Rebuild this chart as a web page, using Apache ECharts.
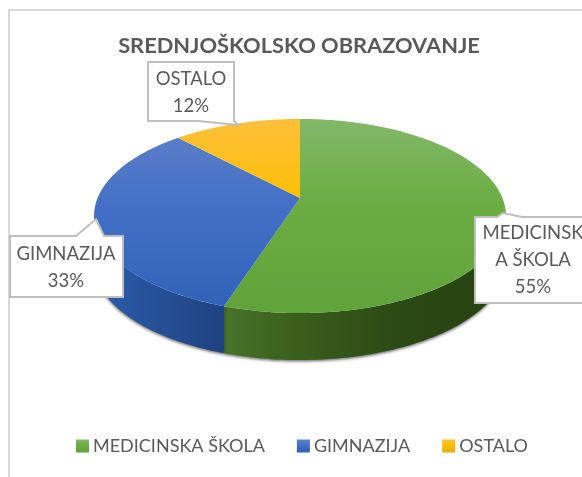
<!DOCTYPE html>
<html>
<head>
<meta charset="utf-8">
<style>
  html, body { margin: 0; padding: 0; background: #fff; }
  #chart { width: 582px; height: 477px; }
</style>
<script src="https://cdn.jsdelivr.net/npm/echarts@6/dist/echarts.min.js"></script>
</head>
<body>
<div id="chart"></div>
<script>
const titleText = 'SREDNJOŠKOLSKO OBRAZOVANJE';
const categories = ['MEDICINSKA ŠKOLA', 'GIMNAZIJA', 'OSTALO'];
const values = [55, 33, 12];
const labelLines = [['MEDICINSK', 'A ŠKOLA'], ['GIMNAZIJA'], ['OSTALO']];

const topStops = [
  [[0, '#82b868'], [0.45, '#6bad42'], [1, '#60a33a']],
  [[0, '#6080c8'], [0.45, '#4370c6'], [1, '#2f62b8']],
  [[0, '#fdbf3a'], [0.45, '#fcc000'], [1, '#e6aa05']],
];
const sideStops = [
  [[0, '#47732a'], [0.25, '#3a5f1c'], [0.6, '#2b4a15'], [1, '#27420f']],
  [[0, '#2c5dab'], [1, '#1f4280']],
  [[0, '#b08000'], [1, '#b08000']],
];

// pie plate, seen in perspective: the centre sits above the middle of the ellipse
const cx = 300, cy = 198, rx = 202.4, ry = 93.7, persp = 0.1856, depth = 47;
const total = values.reduce((a, b) => a + b, 0);
const frontFrom = Math.acos(-persp);
const frontTo = 2 * Math.PI - frontFrom;

function toColorStops(stops) {
  return stops.map(s => ({ offset: s[0], color: s[1] }));
}

function rimPoint(angle, dy) {
  const u = Math.sin(angle), v = -Math.cos(angle);
  const s = 1 / (1 - persp * v);
  return [cx + rx * u * s, cy + ry * v * s + (dy || 0)];
}

function arcPoints(from, to, dy) {
  const steps = Math.max(2, Math.ceil((to - from) * 60));
  const pts = [];
  for (let i = 0; i <= steps; i++) {
    pts.push(rimPoint(from + (to - from) * i / steps, dy));
  }
  return pts;
}

function renderSlice(index) {
  const before = values.slice(0, index).reduce((a, b) => a + b, 0);
  const start = before / total * 2 * Math.PI;
  const end = (before + values[index]) / total * 2 * Math.PI;
  const children = [];

  const a = Math.max(start, frontFrom), b = Math.min(end, frontTo);
  if (b > a) {
    const top = arcPoints(a, b, 0);
    const bottom = arcPoints(a, b, depth).reverse();
    const xs = top.map(p => p[0]);
    children.push({
      type: 'polygon',
      shape: { points: top.concat(bottom) },
      style: {
        fill: new echarts.graphic.LinearGradient(Math.min(...xs), 0, Math.max(...xs), 0,
          toColorStops(sideStops[index]), true),
        shadowColor: 'rgba(0,0,0,0.55)',
        shadowBlur: 3,
        shadowOffsetY: 1.5,
      },
    });
  }

  children.push({
    type: 'polygon',
    shape: { points: [[cx, cy]].concat(arcPoints(start, end, 0)) },
    style: {
      fill: new echarts.graphic.LinearGradient(0, cy - 79, 0, cy + 115,
        toColorStops(topStops[index]), true),
    },
  });
  return { type: 'group', children };
}

function callout(points, lines, textX, textY) {
  return [
    {
      type: 'polygon',
      z: 20,
      shape: { points },
      style: { fill: '#fff', stroke: '#bfbfbf', lineWidth: 2 },
    },
    {
      type: 'text',
      z: 21,
      x: textX,
      y: textY,
      style: {
        text: lines.join('\n'),
        fill: '#595959',
        font: '18.5px Lato',
        lineHeight: 27,
        align: 'center',
        verticalAlign: 'middle',
      },
    },
  ];
}

const chart = echarts.init(document.getElementById('chart'));
chart.setOption({
  animation: false,
  title: {
    text: titleText,
    left: 294,
    top: 30,
    textAlign: 'center',
    textStyle: { color: '#595959', fontFamily: 'Lato', fontWeight: 'bold', fontSize: 21.8 },
  },
  legend: {
    data: categories,
    left: 71,
    top: 432,
    itemWidth: 13,
    itemHeight: 13,
    itemGap: 32,
    icon: 'rect',
    textStyle: { color: '#595959', fontFamily: 'Lato', fontSize: 18, padding: [0, 0, 0, -1] },
  },
  series: categories.map((name, i) => ({
    type: 'custom',
    name,
    coordinateSystem: 'none',
    silent: true,
    itemStyle: {
      color: { type: 'linear', x: 0, y: 0, x2: 0, y2: 1, colorStops: toColorStops(topStops[i]) },
    },
    data: [values[i]],
    renderItem: () => renderSlice(i),
  })),
  graphic: [
    { type: 'polyline', z: 19, shape: { points: [[9, 477], [9, 10], [582, 10]] }, style: { stroke: '#d9d9d9', lineWidth: 2, fill: 'none' } },
    ...callout([[148, 62], [234, 62], [234, 121], [238, 125], [198, 121], [148, 121]],
      [labelLines[2][0], values[2] + '%'], 191, 92.5),
    ...callout([[10, 236], [76, 236], [96, 219], [104, 236], [123, 236], [123, 297], [10, 297]],
      [labelLines[1][0], values[1] + '%'], 66, 267.5),
    ...callout([[475, 217], [497, 217], [503, 213], [522, 217], [590, 217], [590, 303], [475, 303]],
      [labelLines[0][0], labelLines[0][1], values[0] + '%'], 533, 260),
  ],
});
</script>
</body>
</html>
